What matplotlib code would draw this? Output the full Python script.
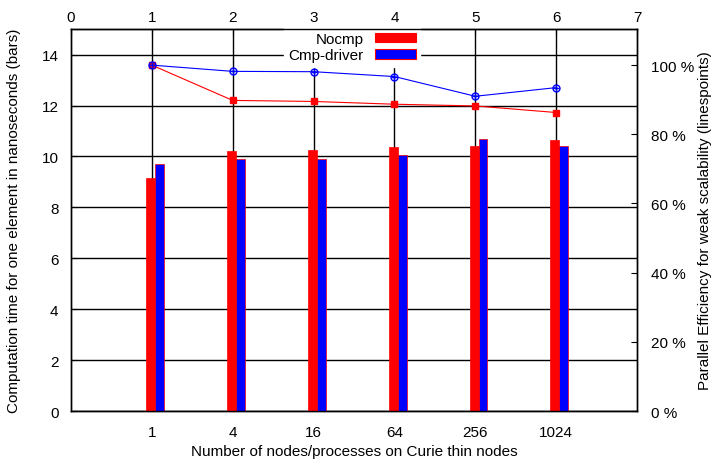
import numpy as np
import matplotlib.pyplot as plt
from matplotlib.patches import Patch

plt.rcParams['font.family'] = ['Liberation Sans', 'DejaVu Sans']
plt.rcParams['font.size'] = 11

# data
nodes = ['1', '4', '16', '64', '256', '1024']
time_nocmp = [9.16, 10.22, 10.26, 10.38, 10.40, 10.65]
time_cmp = [9.71, 9.90, 9.90, 10.07, 10.70, 10.40]
eff_nocmp = [100.0, 89.8, 89.5, 88.7, 88.2, 86.3]
eff_cmp = [100.0, 98.2, 98.1, 96.7, 91.0, 93.5]

pos = np.arange(1, len(nodes) + 1)
bw = 0.11

fig = plt.figure(figsize=(7.13, 4.64), dpi=100)
ax = fig.add_axes([0.0996, 0.112, 0.7938, 0.823])

# bars (left axis)
ax.bar(pos - 0.015, time_nocmp, width=bw, color='red', edgecolor='red', lw=0.5, zorder=3)
ax.bar(pos + 0.095, time_cmp, width=bw, color='blue', edgecolor='red', lw=0.5, zorder=3)

ax.set_xlim(0, 7)
ax.set_ylim(0, 15)
ax.set_yticks(np.arange(0, 15, 2))
ax.set_xticks(pos)
ax.set_xticklabels(nodes)
ax.grid(True, color='black', lw=1.0, zorder=0)
ax.set_axisbelow(True)
ax.tick_params(direction='in', length=4, top=False, right=False)
ax.tick_params(axis='x', pad=10)
ax.tick_params(axis='y', pad=9)
ax.set_xlabel('Number of nodes/processes on Curie thin nodes', labelpad=4)
ax.set_ylabel('Computation time for one element in nanoseconds (bars)', labelpad=15)
for s in ax.spines.values():
    s.set_linewidth(1.0)

top = ax.secondary_xaxis('top')
top.set_xticks(np.arange(0, 8))
top.set_xticklabels([str(i) for i in range(8)])
top.tick_params(direction='in', length=4)

# efficiency lines (right axis)
ax2 = ax.twinx()
ax2.set_ylim(0, 110.4)
ax2.set_yticks(np.arange(0, 101, 20))
ax2.set_yticklabels(['%d %%' % v for v in range(0, 101, 20)])
ax2.tick_params(direction='in', length=4, pad=10)
ax2.set_ylabel('Parallel Efficiency for weak scalability (linespoints)', labelpad=3)
for s in ax2.spines.values():
    s.set_zorder(10)
    s.set_linewidth(1.0)

ax2.plot(pos, eff_nocmp, color='red', lw=0.8, marker='s', ms=4.5, mfc='red', mec='red')
ax2.plot(pos, eff_cmp, color='blue', lw=0.8, marker='o', ms=5, mfc='none', mec='blue', mew=1)
ax2.plot(pos, eff_cmp, ls='none', marker='+', ms=5, mec='blue', mew=1)

handles = [Patch(facecolor='red', edgecolor='red', lw=0.8),
           Patch(facecolor='blue', edgecolor='red', lw=0.8)]
leg = ax2.legend(handles, ['Nocmp', 'Cmp-driver'], loc='center',
                 bbox_to_anchor=(0.497, 0.953), markerfirst=False,
                 fontsize=11, handlelength=2.7, handleheight=0.6,
                 labelspacing=0.15, borderpad=0.3, handletextpad=0.7,
                 borderaxespad=0, fancybox=False, framealpha=1,
                 facecolor='white', edgecolor='white')
leg.set_zorder(5)
for t in leg.get_texts():
    t.set_ha('right')

fig.savefig('out.png', dpi=100)
